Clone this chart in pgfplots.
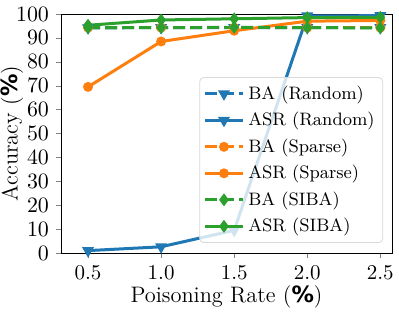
\documentclass[border=0pt]{standalone}
\usepackage{fontspec}
\newfontfamily\dejavu{DejaVu Sans}
\usepackage{pgfplots}
\pgfplotsset{compat=1.18}
\definecolor{tblue}{HTML}{1F77B4}
\definecolor{torange}{HTML}{FF7F0E}
\definecolor{tgreen}{HTML}{2CA02C}
\newcommand{\pct}{{\dejavu\bfseries\%}}
\begin{document}
\begin{tikzpicture}
\begin{axis}[
  scale only axis, width=165.5pt, height=119.5pt,
  at={(0,0)}, anchor=south west,
  xmin=0.315, xmax=2.58, ymin=0, ymax=100,
  xtick={0.5,1.0,1.5,2.0,2.5},
  xticklabels={0.5,1.0,1.5,2.0,2.5},
  ytick={0,10,...,100},
  tick align=outside, tick pos=left,
  major tick length=2.5pt,
  tick label style={font=\fontsize{10.5}{12}\selectfont},
  xlabel={Poisoning Rate (\pct)},
  ylabel={Accuracy (\pct)},
  label style={font=\fontsize{11.2}{13}\selectfont},
  xlabel style={yshift=4pt},
  ylabel style={at={(axis description cs:-0.148,0.5)}, anchor=center},
  every axis plot/.append style={line width=1.5pt},
  legend style={at={(rel axis cs:0.973,0.042)}, anchor=south east,
    draw=black!15, rounded corners=2pt, fill=white, fill opacity=0.8, text opacity=1,
    font=\fontsize{9}{11}\selectfont, row sep=1.0pt, inner sep=2pt},
  legend cell align=left,
  legend image code/.code={
    \draw[#1, mark repeat=2, mark phase=2] plot coordinates {(0cm,0cm) (0.33cm,0cm) (0.66cm,0cm)};
  },
]
\addplot[tblue, dashed, dash pattern=on 6pt off 2.5pt, mark=triangle*, mark options={solid, rotate=180, scale=1.0}] coordinates {(0.5,94.2) (1.0,94.3) (1.5,94.3) (2.0,94.3) (2.5,94.3)};
\addlegendentry{BA (Random)}
\addplot[tblue, mark=triangle*, mark options={rotate=180, scale=1.0}] coordinates {(0.5,1.0) (1.0,2.6) (1.5,9.5) (2.0,99.2) (2.5,99.3)};
\addlegendentry{ASR (Random)}
\addplot[torange, dashed, dash pattern=on 6pt off 2.5pt, mark=*, mark options={solid, scale=0.85}] coordinates {(0.5,94.3) (1.0,94.3) (1.5,94.3) (2.0,94.3) (2.5,94.3)};
\addlegendentry{BA (Sparse)}
\addplot[torange, mark=*, mark options={scale=0.85}] coordinates {(0.5,69.5) (1.0,88.5) (1.5,93.0) (2.0,97.0) (2.5,97.3)};
\addlegendentry{ASR (Sparse)}
\addplot[tgreen, dashed, dash pattern=on 6pt off 2.5pt, mark=diamond*, mark options={solid, scale=1.0}] coordinates {(0.5,94.3) (1.0,94.3) (1.5,94.4) (2.0,94.3) (2.5,94.2)};
\addlegendentry{BA (SIBA)}
\addplot[tgreen, mark=diamond*, mark options={scale=1.0}] coordinates {(0.5,95.3) (1.0,97.5) (1.5,98.0) (2.0,98.5) (2.5,98.6)};
\addlegendentry{ASR (SIBA)}
\end{axis}
\pgfresetboundingbox
\path[use as bounding box] (-30.5pt,-29.5pt) rectangle (169pt,126.5pt);
\end{tikzpicture}
\end{document}
